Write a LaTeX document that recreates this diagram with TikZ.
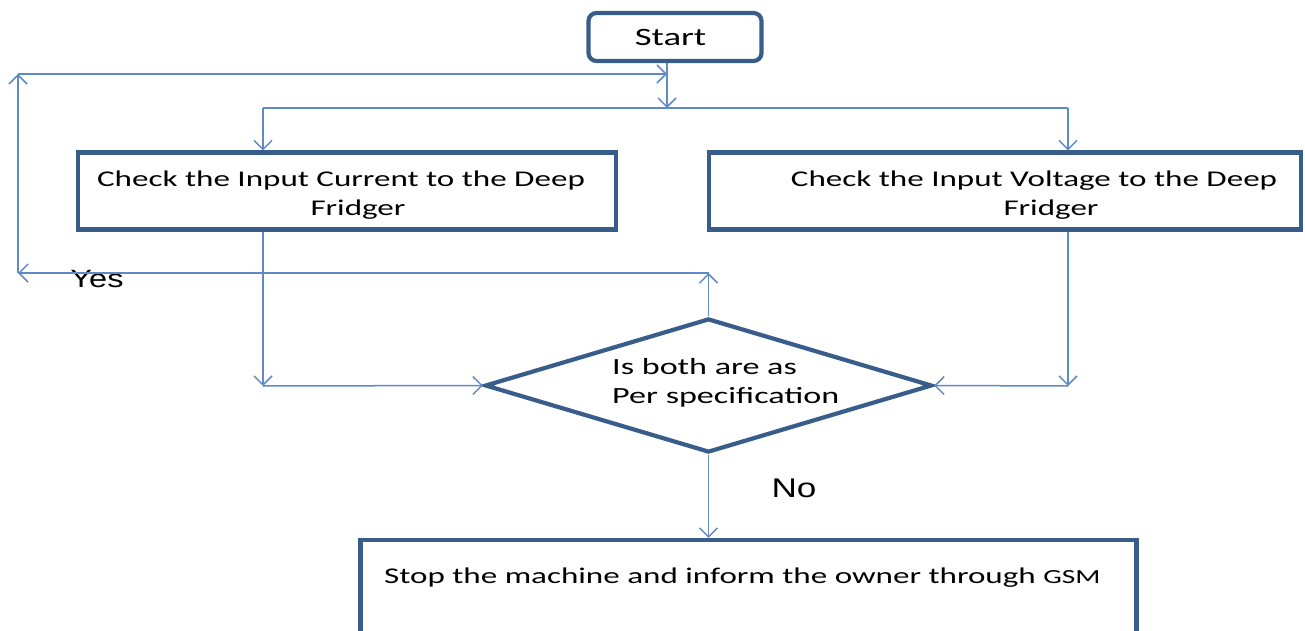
\documentclass[tikz,border=0pt]{standalone}
\usepackage{fontspec}
\setmainfont[FakeStretch=1.47]{Carlito}
\newfontfamily\arialw[FakeStretch=1.3]{Liberation Sans}
\usetikzlibrary{arrows.meta,shapes.geometric}
\definecolor{boxblue}{RGB}{56,93,138}
\definecolor{lineblue}{RGB}{96,138,198}
\begin{document}
\begin{tikzpicture}[x=1pt,y=-1pt,
  box/.style={draw=boxblue, line width=4.2pt, rectangle, inner sep=0pt},
  conn/.style={draw=lineblue, line width=1.5pt, -{Straight Barb[length=9pt,width=18pt,line width=1.5pt]}},
  plainln/.style={draw=lineblue, line width=1.5pt},
  lbl/.style={font=\fontsize{22.5}{29}\selectfont, text=black, align=center, inner sep=0pt},
  yn/.style={font=\arialw\fontsize{25}{30}\selectfont, text=black, inner sep=0pt}]
\clip (0,0) rectangle (1305,631);
% nodes
\node[box, rounded corners=8pt, minimum width=173pt, minimum height=48pt,
      font=\fontsize{25}{30}\selectfont] (start) at (675,37) {Start\hspace*{9pt}};
\node[box, minimum width=538pt, minimum height=77pt] (cur) at (347,191) {};
\node[lbl] (curtxt) at (358,195) {Check the Input Current to the Deep\hspace*{34pt}\\Fridger};
\node[box, minimum width=592pt, minimum height=77pt] (volt) at (1005,191) {};
\node[lbl] (volttxt) at (1051,195) {Check the Input Voltage to the Deep\hspace*{34pt}\\Fridger};
\node[box, diamond, minimum width=447pt, minimum height=134pt] (dec) at (708.5,385.5) {};
\node[lbl, align=left, anchor=west, font=\fontsize{23.2}{29}\selectfont] (dectxt) at (612,383) {Is both are as\\Per specification};
\node[box, minimum width=776pt, minimum height=120pt] (stop) at (748.5,600) {};
\node[lbl, anchor=west] (stoptxt) at (384,578) {Stop the machine and inform the owner through {\fontsize{20}{22}\selectfont GSM}};
\node[yn] (yes) at (97,279) {Yes};
\node[yn, font=\arialw\fontsize{27}{30}\selectfont] (no) at (794,488) {No};
% coordinates
\coordinate (j) at (667,108);
\coordinate (jl) at (263,108);
\coordinate (jr) at (1068,108);
\coordinate (ml) at (263,386);
\coordinate (mr) at (1068,386);
\coordinate (fb1) at (708.5,273);
\coordinate (fb2) at (18,273);
\coordinate (fb3) at (18,74);
\coordinate (fb4) at (667,74);
% connectors
\draw[conn] (start.south -| j) -- (j);
\draw[plainln] (jl) -- (jr);
\draw[conn] (jl) -- (jl |- cur.north);
\draw[conn] (jr) -- (jr |- volt.north);
\draw[conn] (cur.south -| ml) -- (ml);
\draw[conn] (ml) -- (dec.west);
\draw[conn] (volt.south -| mr) -- (mr);
\draw[conn] (mr) -- (dec.east);
\draw[conn] (dec.north) -- (fb1);
\draw[conn] (fb1) -- (fb2);
\draw[conn] (fb2) -- (fb3);
\draw[conn] (fb3) -- (fb4);
\draw[conn] (dec.south) -- (dec.south |- stop.north);
\end{tikzpicture}
\end{document}
